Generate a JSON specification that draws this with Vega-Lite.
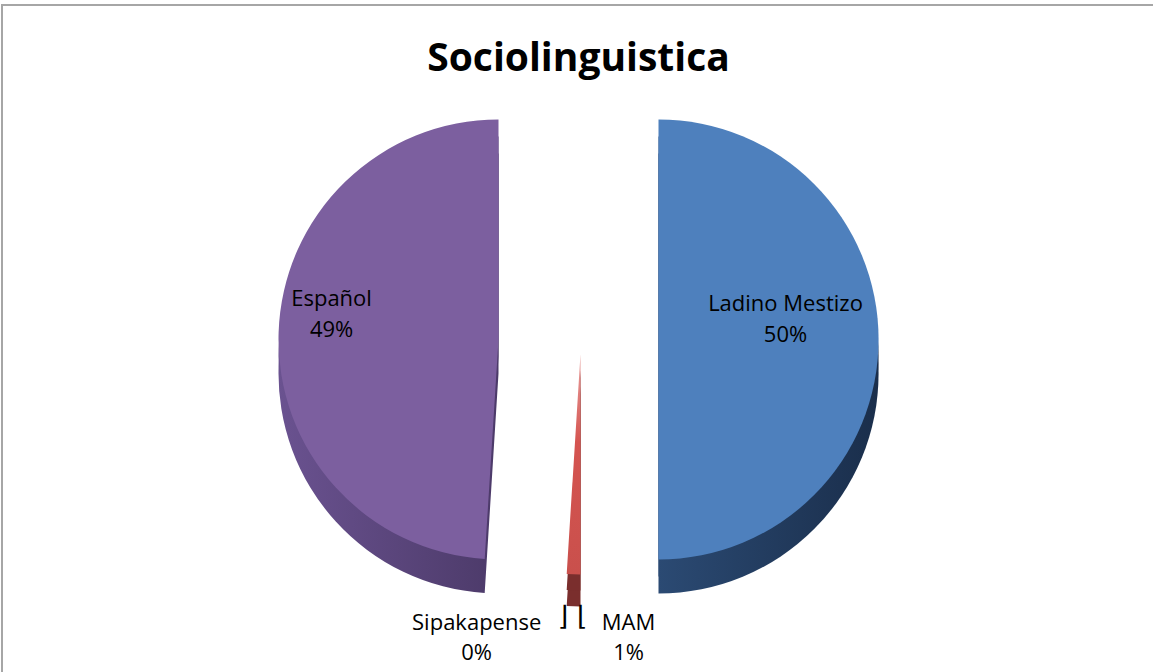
{
  "$schema": "https://vega.github.io/schema/vega-lite/v6.json",
  "width": 1153,
  "height": 669,
  "autosize": {"type": "none"},
  "padding": {"left": 2, "top": 5, "right": -2, "bottom": -2},
  "background": "white",
  "view": {"stroke": "#a6a6a6", "strokeWidth": 2},
  "title": {"text": "Sociolinguistica", "font": "Open Sans", "fontSize": 39, "fontWeight": "bold", "color": "#000000", "anchor": "middle", "frame": "group", "offset": -74},
  "data": {"values": [
    {"cat": "Ladino Mestizo", "share": 0.50, "ord": 1},
    {"cat": "MAM", "share": 0.01, "ord": 2},
    {"cat": "Sipakapense", "share": 0.0, "ord": 3},
    {"cat": "Español", "share": 0.49, "ord": 4}
  ]},
  "transform": [{"stack": "share", "groupby": [], "sort": [{"field": "ord", "order": "ascending"}], "as": ["s0", "s1"]}],
  "layer": [
    {"transform": [{"filter": "datum.cat === 'Español'"}],
     "mark": {"type": "arc", "outerRadius": 220, "xOffset": -80, "yOffset": 34, "fill": {"gradient": "linear", "x1": 0, "x2": 1, "y1": 0, "y2": 0, "stops": [{"offset": 0, "color": "#6a5290"}, {"offset": 1, "color": "#4c3a69"}]}},
     "encoding": {"theta": {"field": "s0", "type": "quantitative", "scale": {"domain": [0, 1], "range": [0, 6.283185307179586]}}, "theta2": {"field": "s1"}}},
    {"transform": [{"filter": "datum.cat === 'Español'"}],
     "mark": {"type": "arc", "outerRadius": 220, "xOffset": -80, "yOffset": 17, "fill": {"gradient": "linear", "x1": 0, "x2": 1, "y1": 0, "y2": 0, "stops": [{"offset": 0, "color": "#6a5290"}, {"offset": 1, "color": "#4c3a69"}]}},
     "encoding": {"theta": {"field": "s0", "type": "quantitative", "scale": {"domain": [0, 1], "range": [0, 6.283185307179586]}}, "theta2": {"field": "s1"}}},
    {"transform": [{"filter": "datum.cat === 'Ladino Mestizo'"}],
     "mark": {"type": "arc", "outerRadius": 220, "xOffset": 80, "yOffset": 34, "fill": {"gradient": "linear", "x1": 0, "x2": 1, "y1": 0, "y2": 0, "stops": [{"offset": 0, "color": "#2b4a73"}, {"offset": 1, "color": "#1a2e4b"}]}},
     "encoding": {"theta": {"field": "s0", "type": "quantitative", "scale": {"domain": [0, 1], "range": [0, 6.283185307179586]}}, "theta2": {"field": "s1"}}},
    {"transform": [{"filter": "datum.cat === 'Ladino Mestizo'"}],
     "mark": {"type": "arc", "outerRadius": 220, "xOffset": 80, "yOffset": 17, "fill": {"gradient": "linear", "x1": 0, "x2": 1, "y1": 0, "y2": 0, "stops": [{"offset": 0, "color": "#2b4a73"}, {"offset": 1, "color": "#1a2e4b"}]}},
     "encoding": {"theta": {"field": "s0", "type": "quantitative", "scale": {"domain": [0, 1], "range": [0, 6.283185307179586]}}, "theta2": {"field": "s1"}}},
    {"transform": [{"filter": "datum.cat === 'MAM'"}],
     "mark": {"type": "arc", "outerRadius": 220, "xOffset": 2, "yOffset": 47, "fill": "#7a2e2d"},
     "encoding": {"theta": {"field": "s0", "type": "quantitative", "scale": {"domain": [0, 1], "range": [0, 6.283185307179586]}}, "theta2": {"field": "s1"}}},
    {"transform": [{"filter": "datum.cat === 'MAM'"}],
     "mark": {"type": "arc", "outerRadius": 220, "xOffset": 2, "yOffset": 31, "fill": "#7a2e2d"},
     "encoding": {"theta": {"field": "s0", "type": "quantitative", "scale": {"domain": [0, 1], "range": [0, 6.283185307179586]}}, "theta2": {"field": "s1"}}},
    {"transform": [{"filter": "datum.cat === 'Español'"}],
     "mark": {"type": "arc", "outerRadius": 220, "xOffset": -80, "yOffset": 0, "fill": "#7c5f9f"},
     "encoding": {"theta": {"field": "s0", "type": "quantitative", "scale": {"domain": [0, 1], "range": [0, 6.283185307179586]}}, "theta2": {"field": "s1"}}},
    {"transform": [{"filter": "datum.cat === 'Ladino Mestizo'"}],
     "mark": {"type": "arc", "outerRadius": 220, "xOffset": 80, "yOffset": 0, "fill": "#4e80bd"},
     "encoding": {"theta": {"field": "s0", "type": "quantitative", "scale": {"domain": [0, 1], "range": [0, 6.283185307179586]}}, "theta2": {"field": "s1"}}},
    {"transform": [{"filter": "datum.cat === 'MAM'"}],
     "mark": {"type": "arc", "outerRadius": 220, "xOffset": 2, "yOffset": 15, "fill": {"gradient": "linear", "x1": 0, "x2": 0, "y1": 0, "y2": 1, "stops": [{"offset": 0, "color": "#e8a09e"}, {"offset": 0.4, "color": "#d55450"}, {"offset": 1, "color": "#c9504c"}]}},
     "encoding": {"theta": {"field": "s0", "type": "quantitative", "scale": {"domain": [0, 1], "range": [0, 6.283185307179586]}}, "theta2": {"field": "s1"}}},
    {"mark": {"type": "text", "font": "Open Sans", "fontSize": 22, "color": "#000000", "radius": 140, "xOffset": -107, "yOffset": -36},
     "encoding": {"theta": {"field": "share", "type": "quantitative", "stack": true, "scale": {"domain": [0, 1], "range": [0, 6.283185307179586]}}, "order": {"field": "ord", "type": "quantitative"},
       "text": {"condition": {"test": "datum.cat === 'Español'", "field": "cat"}, "value": ""}}},
    {"mark": {"type": "text", "font": "Open Sans", "fontSize": 22, "color": "#000000", "radius": 140, "xOffset": -107, "yOffset": -5},
     "encoding": {"theta": {"field": "share", "type": "quantitative", "stack": true, "scale": {"domain": [0, 1], "range": [0, 6.283185307179586]}}, "order": {"field": "ord", "type": "quantitative"},
       "text": {"condition": {"test": "datum.cat === 'Español'", "field": "share", "type": "quantitative", "format": ".0%"}, "value": ""}}},
    {"mark": {"type": "text", "font": "Open Sans", "fontSize": 22, "color": "#000000", "radius": 140, "xOffset": 67, "yOffset": -36},
     "encoding": {"theta": {"field": "share", "type": "quantitative", "stack": true, "scale": {"domain": [0, 1], "range": [0, 6.283185307179586]}}, "order": {"field": "ord", "type": "quantitative"},
       "text": {"condition": {"test": "datum.cat === 'Ladino Mestizo'", "field": "cat"}, "value": ""}}},
    {"mark": {"type": "text", "font": "Open Sans", "fontSize": 22, "color": "#000000", "radius": 140, "xOffset": 67, "yOffset": -5},
     "encoding": {"theta": {"field": "share", "type": "quantitative", "stack": true, "scale": {"domain": [0, 1], "range": [0, 6.283185307179586]}}, "order": {"field": "ord", "type": "quantitative"},
       "text": {"condition": {"test": "datum.cat === 'Ladino Mestizo'", "field": "share", "type": "quantitative", "format": ".0%"}, "value": ""}}},
    {"mark": {"type": "text", "font": "Open Sans", "fontSize": 22, "color": "#000000", "radius": 284, "xOffset": -84, "yOffset": 0},
     "encoding": {"theta": {"field": "share", "type": "quantitative", "stack": true, "scale": {"domain": [0, 1], "range": [0, 6.283185307179586]}}, "order": {"field": "ord", "type": "quantitative"},
       "text": {"condition": {"test": "datum.cat === 'Sipakapense'", "field": "cat"}, "value": ""}}},
    {"mark": {"type": "text", "font": "Open Sans", "fontSize": 22, "color": "#000000", "radius": 284, "xOffset": -84, "yOffset": 30},
     "encoding": {"theta": {"field": "share", "type": "quantitative", "stack": true, "scale": {"domain": [0, 1], "range": [0, 6.283185307179586]}}, "order": {"field": "ord", "type": "quantitative"},
       "text": {"condition": {"test": "datum.cat === 'Sipakapense'", "field": "share", "type": "quantitative", "format": ".0%"}, "value": ""}}},
    {"mark": {"type": "text", "font": "Open Sans", "fontSize": 22, "color": "#000000", "radius": 284, "xOffset": 59, "yOffset": 0},
     "encoding": {"theta": {"field": "share", "type": "quantitative", "stack": true, "scale": {"domain": [0, 1], "range": [0, 6.283185307179586]}}, "order": {"field": "ord", "type": "quantitative"},
       "text": {"condition": {"test": "datum.cat === 'MAM'", "field": "cat"}, "value": ""}}},
    {"mark": {"type": "text", "font": "Open Sans", "fontSize": 22, "color": "#000000", "radius": 284, "xOffset": 59, "yOffset": 30},
     "encoding": {"theta": {"field": "share", "type": "quantitative", "stack": true, "scale": {"domain": [0, 1], "range": [0, 6.283185307179586]}}, "order": {"field": "ord", "type": "quantitative"},
       "text": {"condition": {"test": "datum.cat === 'MAM'", "field": "share", "type": "quantitative", "format": ".0%"}, "value": ""}}},
    {"mark": {"type": "text", "font": "DejaVu Sans", "fontSize": 27, "color": "#000000", "radius": 284, "xOffset": 3, "yOffset": -6},
     "encoding": {"theta": {"field": "share", "type": "quantitative", "stack": true, "scale": {"domain": [0, 1], "range": [0, 6.283185307179586]}}, "order": {"field": "ord", "type": "quantitative"},
       "text": {"condition": {"test": "datum.cat === 'MAM'", "value": "⌋ ⌊"}, "value": ""}}}
  ]
}
